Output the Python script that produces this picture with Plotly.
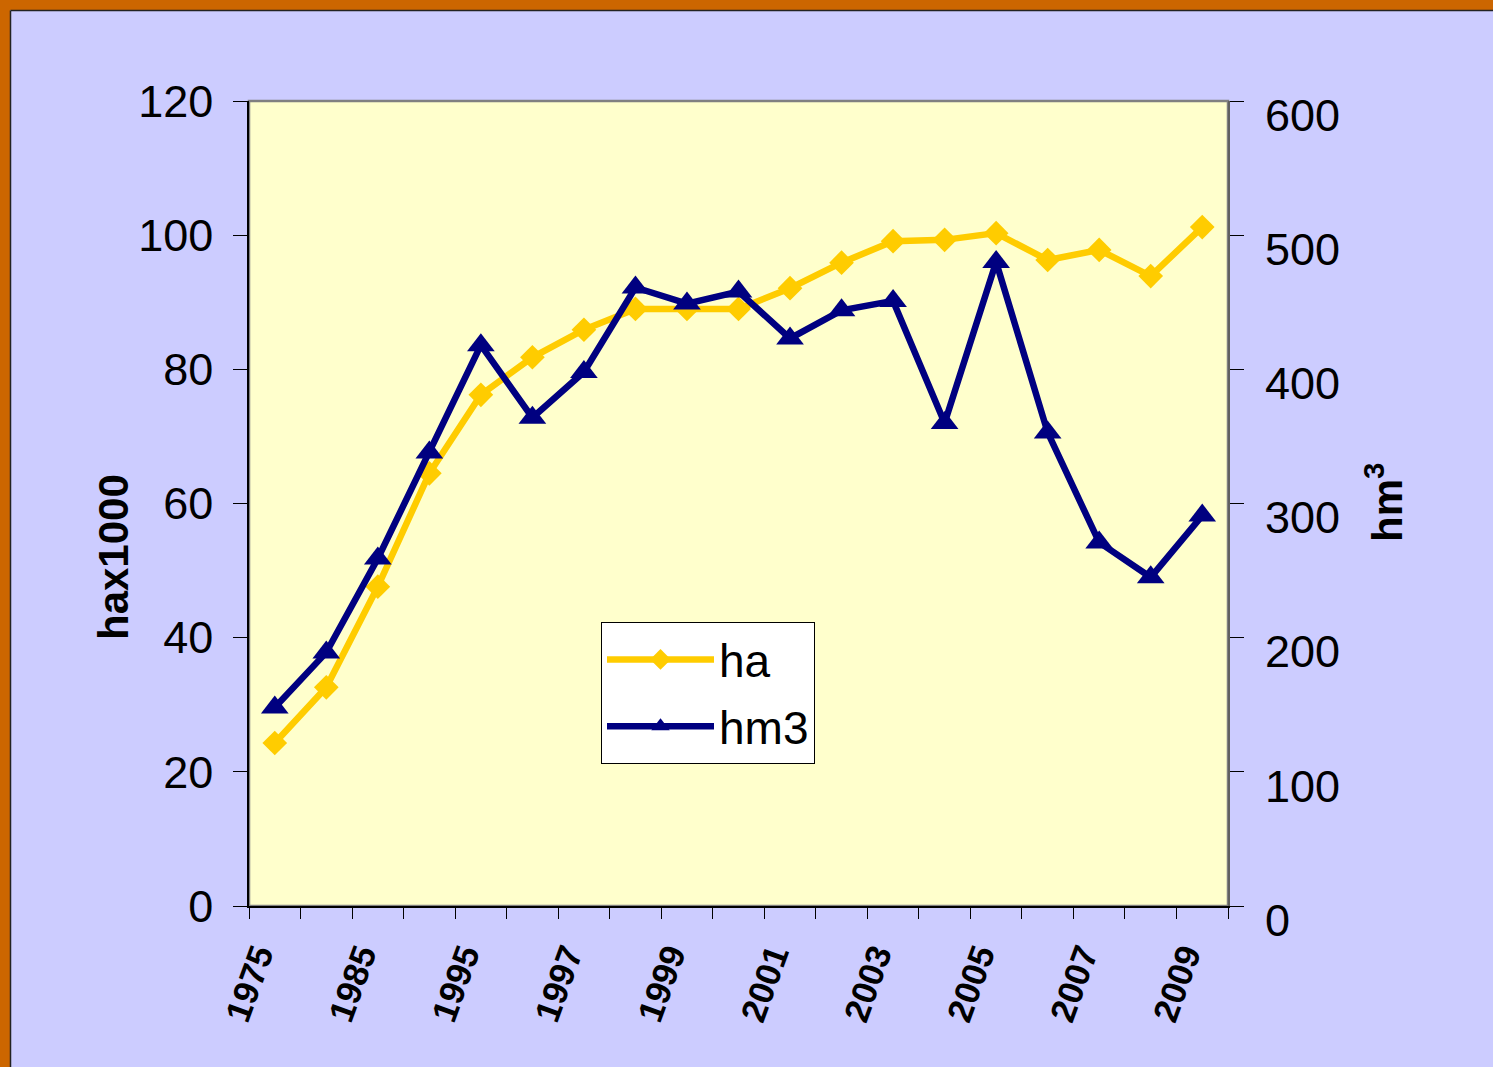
import plotly.graph_objects as go

# categories (x axis) and series values
years = ['1975', '1980', '1985', '1990', '1995', '1996', '1997', '1998', '1999', '2000',
         '2001', '2002', '2003', '2004', '2005', '2006', '2007', '2008', '2009']
year_labels = ['1975', '', '1985', '', '1995', '', '1997', '', '1999', '',
               '2001', '', '2003', '', '2005', '', '2007', '', '2009']
ha = [24.3, 32.6, 47.6, 64.5, 76.2, 81.8, 85.9, 89.0, 89.0, 89.0,
      92.1, 95.9, 99.1, 99.3, 100.3, 96.3, 97.8, 93.9, 101.2]
hm3 = [148, 189, 259, 338, 418, 364, 398, 461, 449, 458,
       423, 444, 451, 360, 480, 353, 271, 245, 291]

_FONT = 'Liberation Sans, Arial, sans-serif'
_ORANGE = '#CC6600'
_LAVENDER = '#CCCCFF'
_YELLOW = '#FFFFCC'

W, H = 1493, 1067
L, R, T, B = 249, 1228, 101, 906


def px_x(p):
    return (p - L) / (R - L)


def px_y(p):
    return (B - p) / (B - T)


fig = go.Figure()
fig.add_trace(go.Scatter(
    x=years, y=ha, name='ha', mode='lines+markers', legendgroup='a',
    line=dict(color='#FFCC00', width=6.5),
    marker=dict(symbol='diamond', size=19, color='#FFCC00'),
))
fig.add_trace(go.Scatter(
    x=years, y=hm3, name='hm3', mode='lines+markers', yaxis='y2', legendgroup='b',
    line=dict(color='#000080', width=6.5),
    marker=dict(symbol='triangle-up', size=24, color='#000080'),
))

shapes = [
    # orange frame strips on the left and top edges
    dict(type='rect', xref='paper', yref='paper', x0=px_x(-5), x1=px_x(10),
         y0=px_y(H + 5), y1=px_y(-5), fillcolor=_ORANGE, line_width=0, layer='below'),
    dict(type='rect', xref='paper', yref='paper', x0=px_x(-5), x1=px_x(W + 5),
         y0=px_y(10), y1=px_y(-5), fillcolor=_ORANGE, line_width=0, layer='below'),
    dict(type='line', xref='paper', yref='paper', x0=px_x(10.5), x1=px_x(10.5),
         y0=px_y(H + 5), y1=px_y(10.5), line=dict(color='#222222', width=1.5)),
    dict(type='line', xref='paper', yref='paper', x0=px_x(10.5), x1=px_x(W + 5),
         y0=px_y(10.5), y1=px_y(10.5), line=dict(color='#222222', width=1.5)),
    # plot area border
    dict(type='rect', xref='paper', yref='paper', x0=0, x1=1, y0=0, y1=1,
         line=dict(color='#808080', width=2.5), layer='below'),
]

fig.add_annotation(
    text='<b>hax1000</b>', textangle=-90, showarrow=False,
    xref='paper', yref='paper', x=px_x(113), y=px_y(557),
    xanchor='center', yanchor='middle',
    font=dict(size=42, color='black', family=_FONT),
)
fig.add_annotation(
    text='<b>hm<sup>3</sup></b>', textangle=-90, showarrow=False,
    xref='paper', yref='paper', x=px_x(1384), y=px_y(503),
    xanchor='center', yanchor='middle',
    font=dict(size=42, color='black', family=_FONT),
)

fig.update_layout(
    width=W, height=H,
    margin=dict(l=L, r=W - R, t=T, b=H - B, autoexpand=False),
    paper_bgcolor=_LAVENDER, plot_bgcolor=_YELLOW,
    font=dict(family=_FONT, color='black'),
    shapes=shapes,
    showlegend=True,
    legend=dict(
        x=px_x(601), y=px_y(622), xanchor='left', yanchor='top',
        bgcolor='white', bordercolor='black', borderwidth=1,
        font=dict(size=46, family=_FONT, color='black'),
        itemwidth=107, tracegroupgap=4,
    ),
    xaxis=dict(
        type='category', tickmode='array', tickvals=years, ticktext=year_labels,
        range=[-0.5, len(years) - 0.5],
        tickson='boundaries', ticks='outside', ticklen=11, tickcolor='black',
        tickangle=-70, tickfont=dict(size=35, family=_FONT, color='black', weight='bold'),
        ticklabelstandoff=13, ticklabelshift=-17,
        showline=True, linecolor='black', linewidth=1.5, showgrid=False, zeroline=False,
    ),
    yaxis=dict(
        range=[0, 120], dtick=20, ticks='outside', ticklen=14, tickcolor='black',
        tickfont=dict(size=45, family=_FONT, color='black'), ticklabelstandoff=11,
        showline=True, linecolor='black', linewidth=1.5, showgrid=False, zeroline=False,
    ),
    yaxis2=dict(
        range=[0, 600], dtick=100, overlaying='y', side='right',
        ticks='outside', ticklen=14, tickcolor='black',
        tickfont=dict(size=45, family=_FONT, color='black'), ticklabelstandoff=12,
        ticklabelshift=14,
        showline=True, linecolor='#606060', linewidth=2, showgrid=False, zeroline=False,
    ),
)

fig.write_html('out.html', config={'displayModeBar': False},
               post_script="document.body.style.margin='0';")
